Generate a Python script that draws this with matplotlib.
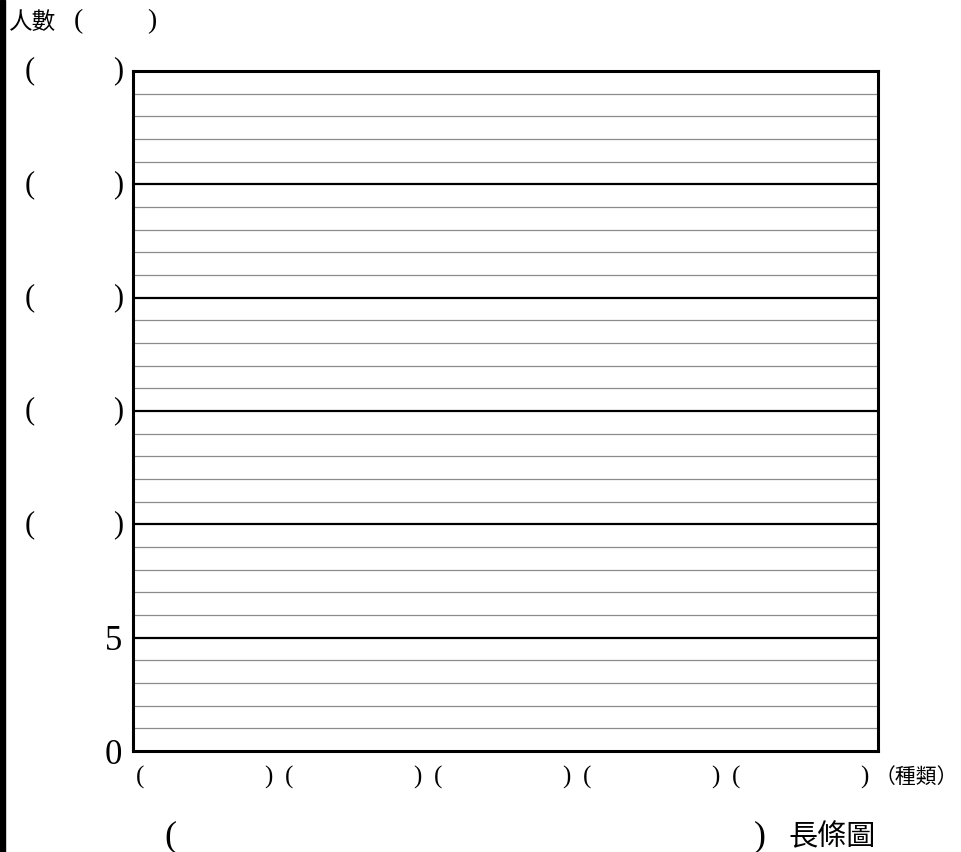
import matplotlib
matplotlib.use("Agg")
import matplotlib.pyplot as plt
import matplotlib.transforms as mtransforms
from matplotlib.patches import Rectangle

# blank worksheet: 5 categories to fill in, people count 0..30
categories = ["", "", "", "", ""]
y_max = 30
y_major = [0, 5, 10, 15, 20, 25, 30]
y_labels = ["0", "5", "", "", "", "", ""]   # blanks are "( )" to fill in
y_title = "人數"
x_title = "種類"
chart_title = "長條圖"

CJK = ["Noto Sans CJK TC", "DejaVu Sans"]
SERIF = ["Liberation Serif", "DejaVu Serif"]

fig = plt.figure(figsize=(9.62, 8.52), dpi=100)
ax = fig.add_axes([133 / 962, 101 / 852, 745 / 962, 680 / 852])

n = len(categories)
ax.set_xlim(0, n)
ax.set_ylim(0, y_max)

# grid: thin grey every unit, black every 5
for y in range(1, y_max):
    if y % 5 == 0:
        ax.axhline(y, color="black", lw=1.6, zorder=2)
    else:
        ax.axhline(y, color="#8c8c8c", lw=0.9, zorder=1)

for s in ax.spines.values():
    s.set_linewidth(2.2)
    s.set_color("black")
ax.tick_params(length=0)
ax.set_xticks([])
ax.set_yticks(y_major)
ax.set_yticklabels(y_labels, fontsize=25, family=SERIF)
ax.tick_params(axis="y", pad=8)

# y blanks "(     )"
ytr = mtransforms.blended_transform_factory(fig.transFigure, ax.transData)
for y, lab in zip(y_major, y_labels):
    if lab == "":
        fig.text(30 / 962, y, "(", transform=ytr, ha="center", va="center",
                 fontsize=22, family=SERIF)
        fig.text(118 / 962, y, ")", transform=ytr, ha="center", va="center",
                 fontsize=22, family=SERIF)

# x blanks under each category
xtr = mtransforms.blended_transform_factory(ax.transData, fig.transFigure)
for i, cat in enumerate(categories):
    fig.text(i + 0.05, 1 - 777 / 852, "(", transform=xtr, ha="center",
             va="center", fontsize=18, family=SERIF)
    fig.text(i + 0.91, 1 - 777 / 852, ")", transform=xtr, ha="center",
             va="center", fontsize=18, family=SERIF)
fig.text(875 / 962, 1 - 777 / 852, "（" + x_title + "）", ha="left",
         va="center", fontsize=15, family=CJK)

# y title top-left
fig.text(9 / 962, 1 - 22 / 852, y_title, ha="left", va="center",
         fontsize=17, family=CJK)
fig.text(78 / 962, 1 - 22 / 852, "(", ha="center", va="center",
         fontsize=20, family=SERIF)
fig.text(152 / 962, 1 - 22 / 852, ")", ha="center", va="center",
         fontsize=20, family=SERIF)

# bottom title "(            ) 長條圖"
fig.text(170 / 962, 1 - 837 / 852, "(", ha="center", va="center",
         fontsize=26, family=SERIF)
fig.text(760 / 962, 1 - 837 / 852, ")", ha="center", va="center",
         fontsize=26, family=SERIF)
fig.text(788 / 962, 1 - 837 / 852, chart_title, ha="left", va="center",
         fontsize=21, family=CJK)

# black strip on the left edge
fig.patches.append(Rectangle((0, 0), 5 / 962, 1, transform=fig.transFigure,
                             color="black", zorder=0))

fig.savefig("out.png", dpi=100, facecolor="white")
